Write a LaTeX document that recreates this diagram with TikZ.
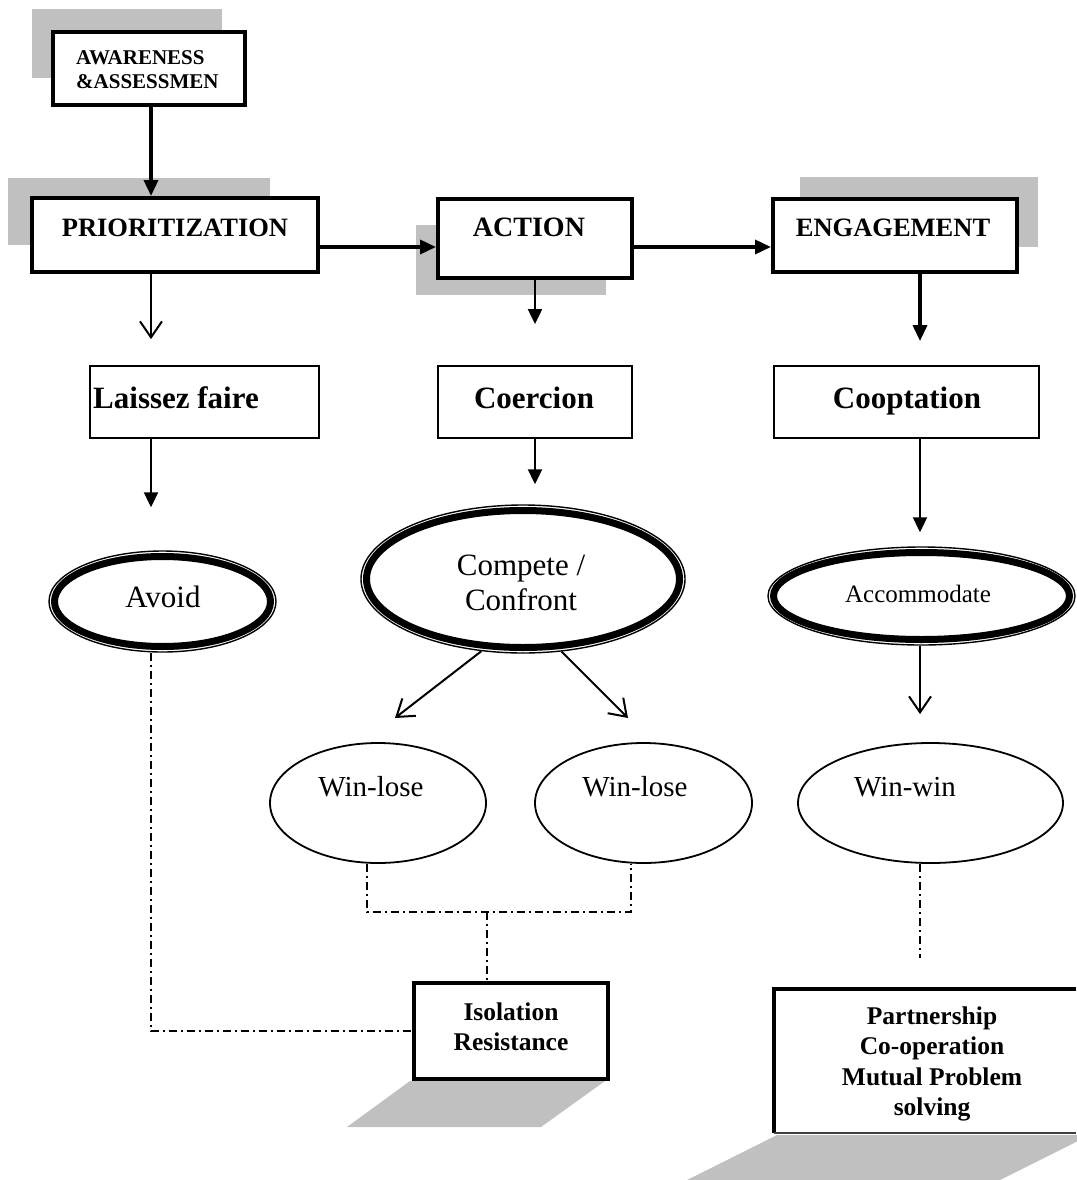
\documentclass[tikz,border=0pt]{standalone}
\usepackage{fontspec}
\setmainfont{Liberation Serif}
\usetikzlibrary{arrows.meta,shapes.geometric,calc}
\definecolor{shade}{RGB}{192,192,192}
\begin{document}
\begin{tikzpicture}[x=1pt,y=-1pt,
  heavybox/.style={draw,line width=4pt,fill=white,inner sep=0pt,rectangle},
  lightbox/.style={draw,line width=1.8pt,fill=white,inner sep=0pt,rectangle},
  shadowfill/.style={fill=shade,draw=none},
  heavyarrow/.style={line width=3.5pt,-{Triangle[length=16pt,width=14pt]}},
  lightarrow/.style={line width=2pt,-{Triangle[length=15pt,width=14pt]}},
  openarrow/.style={line width=2pt,-{Straight Barb[length=16pt,width=22pt]}},
  dashdot/.style={line width=2pt,dash pattern=on 8pt off 4pt on 2pt off 4pt},
  outerell/.style={ellipse,draw,line width=1.4pt,inner sep=0pt},
  plainell/.style={ellipse,draw,line width=1.8pt,inner sep=0pt},
  innerring/.style={line width=7pt},
  headtext/.style={font=\fontsize{26.5}{30}\selectfont\bfseries,inner sep=0pt,anchor=base},
  midtext/.style={font=\fontsize{31}{35}\selectfont\bfseries,inner sep=0pt,anchor=base},
  elltext/.style={font=\fontsize{31}{35}\selectfont,inner sep=0pt,align=center},
  wintext/.style={font=\fontsize{29}{33}\selectfont,inner sep=0pt,anchor=base},
  endtext/.style={font=\fontsize{25.5}{30.5}\selectfont\bfseries,inner sep=0pt,align=center}
]
\useasboundingbox (0,0) rectangle (1076,1180);

% shadows
\fill[shadowfill] (32,9) rectangle (222,78);
\fill[shadowfill] (8,178) rectangle (270,245);
\fill[shadowfill] (416,225) rectangle (606,295);
\fill[shadowfill] (800,177) rectangle (1038,247);
\fill[shadowfill] (410,1081) -- (605,1081) -- (541,1127) -- (347,1127) -- cycle;
\fill[shadowfill] (777,1135) -- (1090,1135) -- (1000,1180) -- (687,1180) -- cycle;

% helper coordinates
\coordinate (xA) at (151,0);
\coordinate (xB) at (535,0);
\coordinate (xC) at (920,0);
\coordinate (yA) at (0,247);
\coordinate (xL) at (367,0);
\coordinate (xR) at (631,0);
\coordinate (jn) at (487,912);
\coordinate (wlA) at (395,718);
\coordinate (wlB) at (628,718);
\coordinate (wwend) at (920,958);

% top row boxes
\node[heavybox,minimum width=192pt,minimum height=73pt] (aw) at (149,68.5) {};
\node[heavybox,minimum width=286pt,minimum height=74pt] (prior) at (175,235) {};
\node[heavybox,minimum width=194pt,minimum height=79pt] (act) at (535,238.5) {};
\node[heavybox,minimum width=244pt,minimum height=73pt] (eng) at (895,235.5) {};

\node[anchor=west,align=left,inner sep=0pt,font=\fontsize{21}{24}\selectfont\bfseries] (awT) at (76,70) {AWARENESS\\\&ASSESSMEN};
\node[headtext] (priorT) at (175,236) {PRIORITIZATION};
\node[headtext,font=\fontsize{28}{30}\selectfont\bfseries] (actT) at (529,236) {ACTION};
\node[headtext] (engT) at (893,236) {ENGAGEMENT};

% second row boxes
\node[lightbox,minimum width=229pt,minimum height=72pt] (lz) at (204.5,402) {};
\node[lightbox,minimum width=194pt,minimum height=72pt] (coer) at (535,402) {};
\node[lightbox,minimum width=265pt,minimum height=72pt] (coop) at (906.5,402) {};
\node[midtext] (lzT) at (176,408) {Laissez faire};
\node[midtext] (coerT) at (534,408) {Coercion};
\node[midtext] (coopT) at (907,408) {Cooptation};

% double ellipses
\node[outerell,minimum width=227pt,minimum height=101pt] (avoid) at (162.5,601.5) {};
\draw[innerring] (avoid.center) ellipse [x radius=108, y radius=45];
\node[outerell,minimum width=324pt,minimum height=148pt] (comp) at (523,579) {};
\draw[innerring] (comp.center) ellipse [x radius=156.5, y radius=68.5];
\node[outerell,minimum width=307pt,minimum height=98pt] (acc) at (921.5,596) {};
\draw[innerring] (acc.center) ellipse [x radius=148, y radius=43.5];

\node[elltext,anchor=base] (avT) at (163,607.5) {Avoid};
\node[elltext] (compT) at (521,583) {Compete /\\Confront};
\node[font=\fontsize{25}{29}\selectfont,inner sep=0pt,anchor=base] (accT) at (918,602.5) {Accommodate};

% outcome ellipses
\node[plainell,minimum width=216pt,minimum height=120pt] (wl1) at (378,803) {};
\node[plainell,minimum width=217pt,minimum height=120pt] (wl2) at (643.5,803) {};
\node[plainell,minimum width=265pt,minimum height=120pt] (ww) at (930.5,803) {};
\node[wintext] (wl1T) at (371,796.5) {Win-lose};
\node[wintext] (wl2T) at (635,796.5) {Win-lose};
\node[wintext] (wwT) at (905,796.5) {Win-win};

% end boxes
\node[heavybox,minimum width=194pt,minimum height=96pt] (iso) at (511,1031) {};
\node[endtext] (isoT) at (511,1027) {Isolation\\Resistance};
\node[inner sep=0pt,minimum width=302pt,minimum height=144pt] (pb) at (925,1061) {};
\fill[white] (pb.south west) rectangle (pb.north east);
\draw[line width=4pt] (pb.north east) -- (pb.north west) -- (pb.south west);
\draw[line width=1.5pt,draw=black!75] (pb.south west) -- (pb.south east);
\node[endtext] (pbT) at (932,1064) {Partnership\\Co-operation\\Mutual Problem\\solving};

% arrows
\draw[heavyarrow] (aw.south -| xA) -- (prior.north -| xA);
\draw[heavyarrow] (prior.east |- yA) -- (act.west |- yA);
\draw[heavyarrow] (act.east |- yA) -- (eng.west |- yA);
\draw[heavyarrow,shorten >=24pt] (eng.south -| xC) -- (coop.north -| xC);
\draw[openarrow,shorten >=26pt] (prior.south -| xA) -- (lz.north -| xA);
\draw[lightarrow,shorten >=41pt] (act.south -| xB) -- (coer.north -| xB);
\draw[lightarrow,shorten >=43pt] (lz.south -| xA) -- (avoid.north -| xA);
\draw[lightarrow,shorten >=20pt] (coer.south) -- (comp.north -| xB);
\draw[lightarrow,shorten >=14pt] (coop.south -| xC) -- (acc.north -| xC);
\draw[openarrow] (comp.240.6) -- (wlA);
\draw[openarrow] (comp.298.8) -- (wlB);
\draw[openarrow,shorten >=28pt] (acc.south -| xC) -- (ww.north -| xC);

% dash-dot links
\draw[dashdot] (avoid.south -| xA) |- (iso.west);
\draw[dashdot] (wl1.south -| xL) |- (jn) -| (wl2.south -| xR);
\draw[dashdot] (jn) -- (jn |- iso.north);
\draw[dashdot] (ww.south -| xC) -- (wwend);
\end{tikzpicture}
\end{document}
